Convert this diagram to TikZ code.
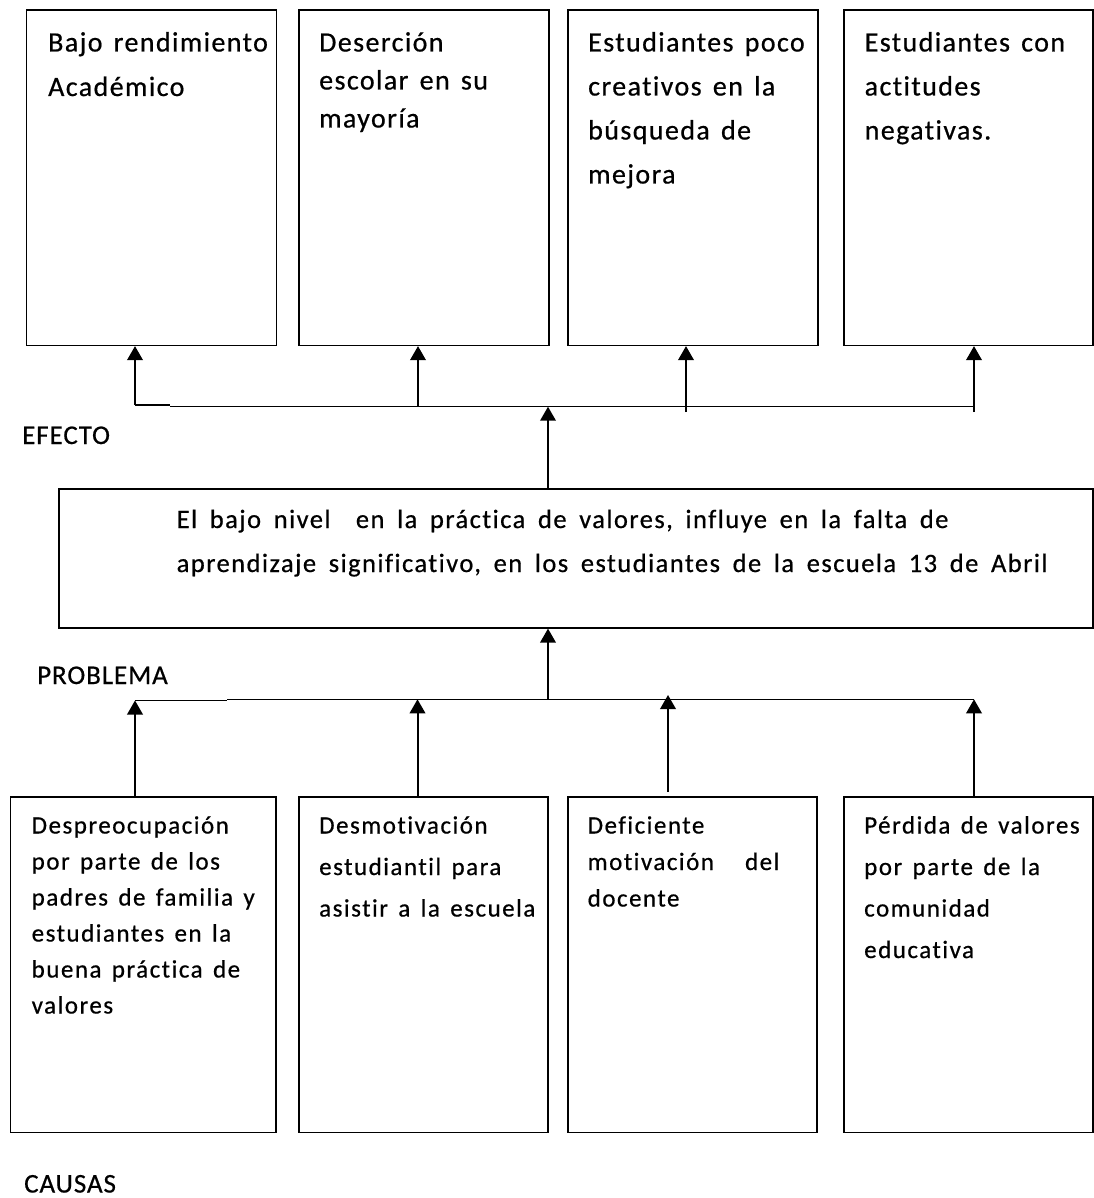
\documentclass[tikz,border=0pt]{standalone}
\usepackage{fontspec}
\setmainfont{Carlito}[Ligatures=NoCommon]
\newfontfamily\fTop{Carlito}[LetterSpace=5.0, WordSpace=1.45, Ligatures=NoCommon, FakeBold=0.6]
\newfontfamily\fBot{Carlito}[LetterSpace=6.0, WordSpace=1.45, Ligatures=NoCommon, FakeBold=0.6]
\newfontfamily\fProb{Carlito}[LetterSpace=5.5, WordSpace=1.7, Ligatures=NoCommon, FakeBold=0.6]
\newfontfamily\fLbl{Carlito}[LetterSpace=3.4, WordSpace=1.45, Ligatures=NoCommon, FakeBold=0.6]
\usetikzlibrary{arrows.meta}
\newcommand\lns[4]{{#1\fontsize{#2}{#3}\selectfont\begin{tabular}[t]{@{}l@{}}#4\end{tabular}}}
\tikzset{
  box/.style={draw, line width=1.6pt, anchor=north west, inner sep=0pt},
  txt/.style={anchor=base west, inner sep=0pt},
  lbl/.style={anchor=base west, inner sep=0pt, font=\fLbl\fontsize{27}{33}\selectfont},
  arr/.style={line width=2pt, -{Triangle[width=15.5pt,length=14pt]}},
  bus/.style={line width=1.5pt},
}
\begin{document}
\begin{tikzpicture}[x=1pt,y=-1pt]
\useasboundingbox (0,0) rectangle (1093,1198);
% effect boxes
\node[box, minimum width=250pt, minimum height=335pt] (e1) at (25.5,9.5) {};
\node[box, minimum width=250pt, minimum height=335pt] (e2) at (298,9.5) {};
\node[box, minimum width=250pt, minimum height=335pt] (e3) at (567,9.5) {};
\node[box, minimum width=249pt, minimum height=335pt] (e4) at (843,9.5) {};
\node[txt] (te1) at (48,51.5) {\lns{\fTop}{28}{44.5}{Bajo rendimiento\\Académico}};
\node[txt] (te2) at (319,51.5) {\lns{\fTop}{28}{38}{Deserción\\escolar en su\\mayoría}};
\node[txt] (te3) at (588,51.5) {\lns{\fTop}{28}{44}{Estudiantes poco\\creativos en la\\búsqueda de\\mejora}};
\node[txt] (te4) at (864.5,51.5) {\lns{\fTop}{28}{44}{Estudiantes con\\actitudes\\negativas.}};
% problem box
\node[box, minimum width=1034pt, minimum height=139pt] (p) at (58,488) {};
\node[txt] (tp) at (176.5,528) {\lns{\fProb}{26.5}{44}{El bajo nivel~ en la práctica de valores, influye en la falta de\\aprendizaje significativo, en los estudiantes de la escuela 13 de Abril}};
% cause boxes
\node[box, minimum width=265.5pt, minimum height=335.5pt] (c1) at (9.5,796) {};
\node[box, minimum width=249pt, minimum height=335.5pt] (c2) at (298,796) {};
\node[box, minimum width=249pt, minimum height=335.5pt] (c3) at (567,796) {};
\node[box, minimum width=249pt, minimum height=335.5pt] (c4) at (843,796) {};
\node[txt] (tc1) at (31.5,833.5) {\lns{\fBot}{25}{36}{Despreocupación\\por parte de los\\padres de familia y\\estudiantes en la\\buena práctica de\\valores}};
\node[txt] (tc2) at (319,833.5) {\lns{\fBot}{25}{41.5}{Desmotivación\\estudiantil para\\asistir a la escuela}};
\node[txt] (tc3) at (587.5,833.5) {\lns{\fBot}{25}{36.5}{Deficiente\\motivación~~ del\\docente}};
\node[txt] (tc4) at (864,833.5) {\lns{\fBot}{25}{41.5}{Pérdida de valores\\por parte de la\\comunidad\\educativa}};
% labels
\node[lbl] (efecto) at (22,444) {EFECTO};
\node[lbl] (problema) at (37,684) {PROBLEMA};
\node[lbl] (causas) at (24,1192.5) {CAUSAS};
% top bus
\coordinate (t1) at (135,405);
\coordinate (t1b) at (170,405);
\coordinate (tb) at (170,406.7);
\coordinate (t2) at (418,406.7);
\coordinate (t3) at (686,412);
\coordinate (t4) at (974,412);
\coordinate (t4b) at (974,406.7);
\coordinate (tm) at (548,406.7);
\draw[bus] (t1) -- (t1b);
\draw[bus] (tb) -- (t4b);
\draw[arr] (t1) -- (t1 |- e1.south);
\draw[arr] (t2) -- (t2 |- e2.south);
\draw[arr] (t3) -- (t3 |- e3.south);
\draw[arr] (t4) -- (t4 |- e4.south);
\draw[arr] (tm |- p.north) -- (tm);
% bottom bus
\coordinate (b1) at (135,700.5);
\coordinate (b1b) at (227,700.5);
\coordinate (bb) at (227,699.3);
\coordinate (b2) at (417.5,699.3);
\coordinate (b3) at (668,695);
\coordinate (b3s) at (668,792);
\coordinate (b4) at (974,699.3);
\coordinate (bm) at (548,699.3);
\draw[bus] (b1) -- (b1b);
\draw[bus] (bb) -- (b4);
\draw[arr] (b1 |- c1.north) -- (b1);
\draw[arr] (b2 |- c2.north) -- (b2);
\draw[arr] (b3s) -- (b3);
\draw[arr] (b4 |- c4.north) -- (b4);
\draw[arr] (bm) -- (bm |- p.south);
\end{tikzpicture}
\end{document}
